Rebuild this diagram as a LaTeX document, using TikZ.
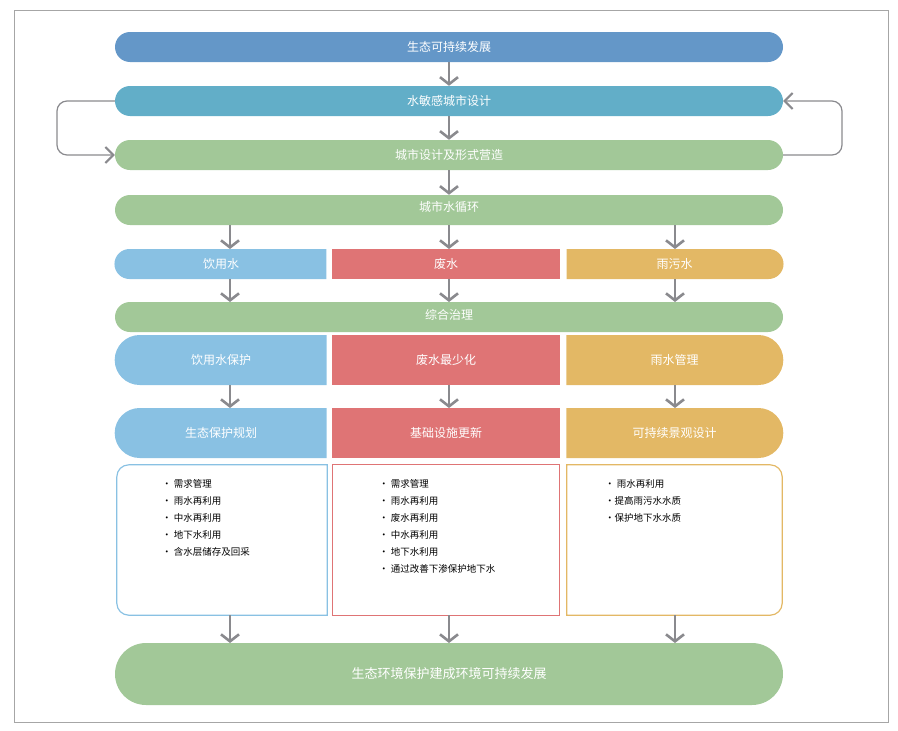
\documentclass[tikz,border=0pt]{standalone}
\usepackage{fontspec}
\setmainfont{Noto Sans CJK SC}
\usetikzlibrary{shapes.misc,arrows.meta}
\definecolor{cA}{HTML}{6497C8}
\definecolor{cB}{HTML}{62AEC8}
\definecolor{cG}{HTML}{A2C898}
\definecolor{cL}{HTML}{89C1E3}
\definecolor{cR}{HTML}{DF7475}
\definecolor{cO}{HTML}{E3B865}
\definecolor{cArr}{HTML}{8A8A8E}
\begin{document}
\begin{tikzpicture}[x=1pt,y=-1pt,
 bar/.style={rounded rectangle,minimum width=668,minimum height=30,inner sep=0,text=white,font=\fontsize{12}{14}\selectfont},
 cell/.style={rectangle,inner sep=0,text=white,font=\fontsize{12}{14}\selectfont},
 arr/.style={draw=cArr,line width=2.6,-{Straight Barb[length=7,width=18,line width=2.6]}},
 loop/.style={draw=cArr,line width=1.2,rounded corners=10,-{Straight Barb[length=8,width=16,line width=2]}},
 lst/.style={anchor=north west,align=left,font=\fontsize{9.5}{17}\selectfont,text=black,inner sep=0}]
\useasboundingbox (0,0) rectangle (898,731);
\draw[gray!70,line width=0.6] (14,10) rectangle (888,722);
\node[bar,fill=cA] (b1) at (449,47) {生态可持续发展};
\node[bar,fill=cB] (b2) at (449,101) {水敏感城市设计};
\node[bar,fill=cG] (b3) at (449,155) {城市设计及形式营造};
\node[bar,fill=cG] (b4) at (449,210) {};
\node[text=white,font=\fontsize{12}{14}\selectfont] (t4) at (449,207) {城市水循环};
% row 5
\node[cell,rounded rectangle,rounded rectangle east arc=none,fill=cL,minimum width=212,minimum height=30] (w1) at (221,264) {饮用水};
\node[cell,fill=cR,minimum width=228,minimum height=30] (w2) at (446,264) {废水};
\node[cell,rounded rectangle,rounded rectangle west arc=none,fill=cO,minimum width=217,minimum height=30] (w3) at (674.5,264) {雨污水};
\node[bar,fill=cG] (b6) at (449,317) {};
\node[text=white,font=\fontsize{12}{14}\selectfont] (t6) at (449,315) {综合治理};
% row 7
\node[cell,rounded rectangle,rounded rectangle east arc=none,fill=cL,minimum width=212,minimum height=50] (p1) at (221,360) {饮用水保护};
\node[cell,fill=cR,minimum width=228,minimum height=50] (p2) at (446,360) {废水最少化};
\node[cell,rounded rectangle,rounded rectangle west arc=none,fill=cO,minimum width=217,minimum height=50] (p3) at (674.5,360) {雨水管理};
% row 8
\node[cell,rounded rectangle,rounded rectangle east arc=none,fill=cL,minimum width=212,minimum height=50] (q1) at (221,433) {生态保护规划};
\node[cell,fill=cR,minimum width=228,minimum height=50] (q2) at (446,433) {基础设施更新};
\node[cell,rounded rectangle,rounded rectangle west arc=none,fill=cO,minimum width=217,minimum height=50] (q3) at (674.5,433) {可持续景观设计};
% list boxes
\node[minimum width=210,minimum height=150,inner sep=0] (r1) at (222,540) {};
\node[minimum width=226,minimum height=150,inner sep=0] (r2) at (446,540) {};
\node[minimum width=215,minimum height=150,inner sep=0] (r3) at (674.5,540) {};
\draw[cL,line width=1.2] (r1.north east) [rounded corners=12] -- (r1.north west) -- (r1.south west) [sharp corners] -- (r1.south east) -- cycle;
\draw[cR,line width=1.2] (r2.north west) rectangle (r2.south east);
\draw[cO,line width=1.2] (r3.north west) [rounded corners=12] -- (r3.north east) -- (r3.south east) [sharp corners] -- (r3.south west) -- cycle;
\node[lst] (l1) at (162,479) {• 需求管理\\• 雨水再利用\\• 中水再利用\\• 地下水利用\\• 含水层储存及回采};
\node[lst] (l2) at (379,479) {• 需求管理\\• 雨水再利用\\• 废水再利用\\• 中水再利用\\• 地下水利用\\• 通过改善下渗保护地下水};
\node[lst] (l3) at (605,479) {• 雨水再利用\\•提高雨污水水质\\•保护地下水水质};
\node[bar,fill=cG,minimum height=62,font=\fontsize{13}{15}\selectfont] (b9) at (449,674) {生态环境保护建成环境可持续发展};
% arrows
\draw[arr] (b1.south) -- (b2.north);
\draw[arr] (b2.south) -- (b3.north);
\draw[arr] (b3.south) -- (b4.north);
\foreach \x/\n in {230/1,449/2,675/3}{
 \draw[arr] (\x,225) -- (\x,249);
 \draw[arr] (\x,279) -- (\x,302);
 \draw[arr] (\x,385) -- (\x,408);
 \draw[arr] (\x,615) -- (\x,643);
}
\coordinate (lc1) at (57,101); \coordinate (lc2) at (57,155);
\coordinate (rc1) at (842,155); \coordinate (rc2) at (842,101);
\draw[loop] (b2.west) -- (lc1) -- (lc2) -- (b3.west);
\draw[loop] (b3.east) -- (rc1) -- (rc2) -- (b2.east);
\end{tikzpicture}
\end{document}
